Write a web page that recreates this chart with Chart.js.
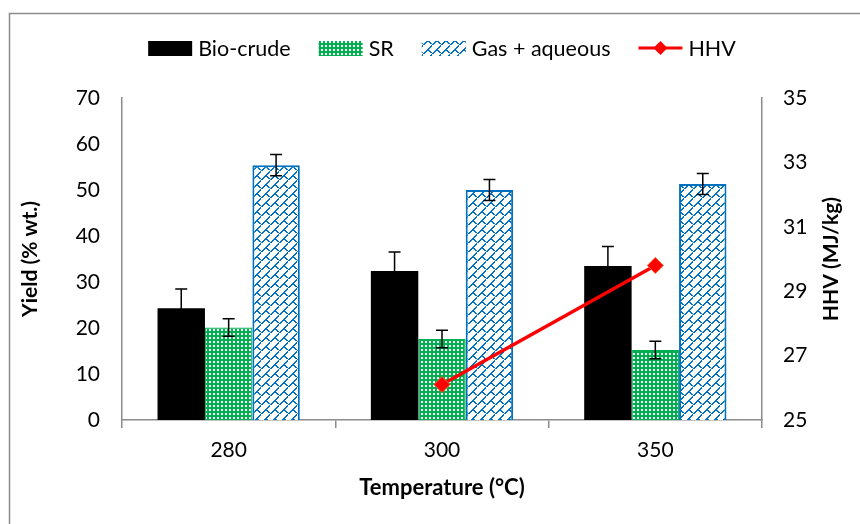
<!DOCTYPE html>
<html>
<head>
<meta charset="utf-8">
<script src="https://cdn.jsdelivr.net/npm/chart.js@4.4.1/dist/chart.umd.min.js"></script>
<style>
  html, body { margin: 0; padding: 0; background: #fff; }
  #wrap { position: relative; width: 860px; height: 524px; }
</style>
</head>
<body>
<div id="wrap"><canvas id="chart" width="860" height="524"></canvas></div>
<script>
const categories = ['280', '300', '350'];
const bioCrude = [24.3, 32.4, 33.5];
const bioCrudeErr = [4.2, 4.1, 4.2];
const sr = [20.1, 17.6, 15.2];
const srErr = [1.9, 1.9, 1.9];
const gasAqueous = [55.4, 50.0, 51.3];
const gasAqueousErr = [2.3, 2.3, 2.3];
const hhv = [null, 26.1, 29.8];

const FONT = 'Lato, "Open Sans", sans-serif';
const BLUE = '#0070c0';
const GREEN = '#00b050';

// dotted green fill like the Excel pattern
function srPattern() {
    const c = document.createElement('canvas');
    c.width = 4; c.height = 4;
    const g = c.getContext('2d');
    g.fillStyle = GREEN;
    g.fillRect(0, 0, 4, 4);
    g.fillStyle = '#fff';
    g.fillRect(1, 1, 2, 2);
    return g.createPattern(c, 'repeat');
}

// diagonal brick-ish blue pattern
function gasPattern() {
    const n = 9;
    const c = document.createElement('canvas');
    c.width = n; c.height = n;
    const g = c.getContext('2d');
    g.fillStyle = '#fff';
    g.fillRect(0, 0, n, n);
    g.fillStyle = BLUE;
    for (let i = 0; i < n; i++) {
        g.fillRect(i, n - 1 - i, 2, 1);
    }
    for (let i = 0; i < 4; i++) {
        g.fillRect(4 + i, 4 + i, 2, 1);
    }
    return g.createPattern(c, 'repeat');
}

const srFill = srPattern();
const gasFill = gasPattern();

const errors = [bioCrudeErr, srErr, gasAqueousErr];

const errorBars = {
    id: 'errorBars',
    afterDatasetsDraw(chart) {
        const ctx = chart.ctx;
        const y = chart.scales.y;
        ctx.save();
        ctx.strokeStyle = '#000';
        ctx.lineWidth = 1.5;
        errors.forEach((err, di) => {
            const meta = chart.getDatasetMeta(di);
            const vals = chart.data.datasets[di].data;
            meta.data.forEach((bar, i) => {
                const top = y.getPixelForValue(vals[i] + err[i]);
                const bot = y.getPixelForValue(vals[i] - err[i]);
                ctx.beginPath();
                ctx.moveTo(bar.x, top);
                ctx.lineTo(bar.x, bot);
                ctx.moveTo(bar.x - 6, top);
                ctx.lineTo(bar.x + 6, top);
                ctx.moveTo(bar.x - 6, bot);
                ctx.lineTo(bar.x + 6, bot);
                ctx.stroke();
            });
        });
        ctx.restore();
    }
};

const frame = {
    id: 'frame',
    beforeDraw(chart) {
        const ctx = chart.ctx;
        ctx.save();
        ctx.fillStyle = '#fff';
        ctx.fillRect(0, 0, chart.width, chart.height);
        ctx.strokeStyle = '#8c8c8c';
        ctx.lineWidth = 1.5;
        ctx.beginPath();
        ctx.moveTo(9.5, chart.height + 2);
        ctx.lineTo(9.5, 13.5);
        ctx.lineTo(chart.width + 2, 13.5);
        ctx.stroke();
        ctx.restore();
    }
};

// right axis title reads bottom-to-top, like the left one
const rightTitle = {
    id: 'rightTitle',
    afterDraw(chart) {
        const ctx = chart.ctx;
        const area = chart.chartArea;
        ctx.save();
        ctx.translate(831, (area.top + area.bottom) / 2);
        ctx.rotate(-Math.PI / 2);
        ctx.font = 'bold 21px ' + FONT;
        ctx.fillStyle = '#000';
        ctx.textAlign = 'center';
        ctx.textBaseline = 'middle';
        ctx.fillText('HHV (MJ/kg)', 0, 0);
        ctx.restore();
    }
};

const legendItems = [
    { label: 'Bio-crude', kind: 'box', fill: '#000' },
    { label: 'SR', kind: 'box', fill: srFill },
    { label: 'Gas + aqueous', kind: 'box', fill: gasFill },
    { label: 'HHV', kind: 'line' }
];

const topLegend = {
    id: 'topLegend',
    afterDraw(chart) {
        const ctx = chart.ctx;
        ctx.save();
        ctx.font = '21.5px ' + FONT;
        const sw = 44, gap = 6, spacing = 28, cy = 48;
        let total = 0;
        legendItems.forEach((it, i) => {
            total += sw + gap + ctx.measureText(it.label).width;
            if (i < legendItems.length - 1) total += spacing;
        });
        const area = chart.chartArea;
        let x = (area.left + area.right) / 2 - total / 2;
        legendItems.forEach(it => {
            if (it.kind === 'box') {
                ctx.fillStyle = it.fill;
                ctx.fillRect(x, cy - 7, sw, 15);
            } else {
                ctx.strokeStyle = '#ff0000';
                ctx.lineWidth = 3;
                ctx.beginPath();
                ctx.moveTo(x, cy);
                ctx.lineTo(x + sw, cy);
                ctx.stroke();
                ctx.fillStyle = '#ff0000';
                ctx.beginPath();
                const mx = x + sw / 2;
                ctx.moveTo(mx, cy - 7);
                ctx.lineTo(mx + 7, cy);
                ctx.lineTo(mx, cy + 7);
                ctx.lineTo(mx - 7, cy);
                ctx.closePath();
                ctx.fill();
            }
            x += sw + gap;
            ctx.fillStyle = '#000';
            ctx.textBaseline = 'middle';
            ctx.fillText(it.label, x, cy + 1);
            x += ctx.measureText(it.label).width + spacing;
        });
        ctx.restore();
    }
};

new Chart(document.getElementById('chart'), {
    data: {
        labels: categories,
        datasets: [
            {
                type: 'bar', label: 'Bio-crude', data: bioCrude, yAxisID: 'y',
                backgroundColor: '#000', borderWidth: 0, order: 1
            },
            {
                type: 'bar', label: 'SR', data: sr, yAxisID: 'y',
                backgroundColor: srFill, borderColor: GREEN, borderWidth: 1, order: 1
            },
            {
                type: 'bar', label: 'Gas + aqueous', data: gasAqueous, yAxisID: 'y',
                backgroundColor: gasFill, borderColor: BLUE, borderWidth: 2, order: 1
            },
            {
                type: 'line', label: 'HHV', data: hhv, yAxisID: 'y1',
                borderColor: '#ff0000', borderWidth: 3.5,
                pointStyle: 'rectRot', pointRadius: 8,
                pointBackgroundColor: '#ff0000', pointBorderColor: '#f0602a', pointBorderWidth: 1,
                spanGaps: false, order: 0
            }
        ]
    },
    options: {
        responsive: false,
        animation: false,
        datasets: {
            bar: { categoryPercentage: 0.667, barPercentage: 1 }
        },
        layout: { padding: { left: 14, right: 14, top: 98, bottom: 19 } },
        plugins: {
            legend: { display: false },
            tooltip: { enabled: false }
        },
        scales: {
            x: {
                offset: true,
                grid: { drawOnChartArea: false, drawTicks: true, tickLength: 8, color: '#8c8c8c', lineWidth: 1.5 },
                border: { color: '#8c8c8c', width: 1.5 },
                ticks: { color: '#000', font: { family: FONT, size: 21 }, padding: 10 },
                title: { display: true, text: 'Temperature (°C)', color: '#000', font: { family: FONT, size: 22, weight: 'bold' } },
                afterFit(s) { s.height = 85; }
            },
            y: {
                position: 'left', min: 0, max: 70,
                grid: { display: false, drawTicks: false },
                border: { color: '#8c8c8c', width: 1.5 },
                ticks: { stepSize: 10, color: '#000', font: { family: FONT, size: 21 }, padding: 22 },
                title: { display: true, text: 'Yield (% wt.)', color: '#000', font: { family: FONT, size: 21, weight: 'bold' } },
                afterFit(s) { s.width = 108; }
            },
            y1: {
                position: 'right', min: 25, max: 35,
                grid: { display: false, drawTicks: false },
                border: { color: '#8c8c8c', width: 1.5 },
                ticks: { stepSize: 2, color: '#000', font: { family: FONT, size: 21 }, padding: 21 },
                title: { display: false },
                afterFit(s) { s.width = 84; }
            }
        }
    },
    plugins: [frame, errorBars, topLegend, rightTitle]
});
</script>
</body>
</html>
